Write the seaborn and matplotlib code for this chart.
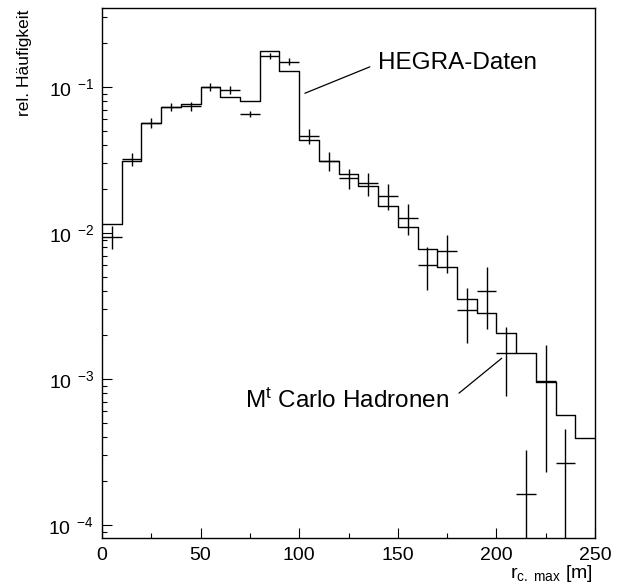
import numpy as np
import pandas as pd
import matplotlib
matplotlib.use("Agg")
import matplotlib.pyplot as plt
import seaborn as sns
from matplotlib.ticker import MultipleLocator, LogLocator, NullFormatter, FuncFormatter

# ---- data ----
bin_width = 10
bin_range = (0, 250)
mc_centers = [5, 15, 25, 35, 45, 55, 65, 75, 85, 95, 105, 115, 125, 135, 145,
              155, 165, 175, 185, 195, 205, 215, 225, 235, 245]
mc_values = [0.0115, 0.0311, 0.0564, 0.0733, 0.0761, 0.1005, 0.0849, 0.0806,
             0.177, 0.129, 0.0434, 0.0312, 0.0254, 0.0211, 0.0152, 0.0110,
             0.00776, 0.00588, 0.00352, 0.00282, 0.00208, 0.00151, 0.00096,
             0.00057, 0.000396]

data_x = [5, 15, 25, 35, 45, 55, 65, 75, 85, 95, 105, 115, 125, 135, 145,
          155, 165, 175, 185, 195, 205, 215, 225, 235]
data_y = [0.00943, 0.0320, 0.0570, 0.0733, 0.0741, 0.1005, 0.0954, 0.0653,
          0.163, 0.149, 0.0464, 0.0312, 0.0237, 0.0219, 0.0180, 0.0127,
          0.00604, 0.00750, 0.00297, 0.00401, 0.00151, 0.000163, 0.00097,
          0.000264]
data_err = [0.0017, 0.0031, 0.0047, 0.0043, 0.0052, 0.0060, 0.0058, 0.0034,
            0.0075, 0.0085, 0.0055, 0.0046, 0.0038, 0.0040, 0.0037, 0.0030,
            0.0020, 0.0022, 0.0012, 0.0018, 0.00075, 0.000164, 0.00074,
            0.00019]
x_half_width = 5

x_ticks = [0, 50, 100, 150, 200, 250]

# ---- style ----
sns.set_style("ticks")
plt.rcParams['font.family'] = ['Liberation Sans', 'DejaVu Sans']
plt.rcParams['mathtext.fontset'] = 'custom'
plt.rcParams['mathtext.rm'] = 'Liberation Sans'
plt.rcParams['mathtext.it'] = 'Liberation Sans:italic'
plt.rcParams['mathtext.bf'] = 'Liberation Sans:bold'
plt.rcParams['axes.unicode_minus'] = False
plt.rcParams['text.color'] = 'black'
plt.rcParams['axes.labelcolor'] = 'black'
plt.rcParams['xtick.color'] = 'black'
plt.rcParams['ytick.color'] = 'black'
plt.rcParams['xtick.labelcolor'] = 'black'
plt.rcParams['ytick.labelcolor'] = 'black'

fig = plt.figure(figsize=(6.19, 5.88), dpi=100)
ax = fig.add_axes([102 / 619, 1 - 537.5 / 588, 493 / 619, 529.5 / 588])

mc_df = pd.DataFrame({"r": mc_centers, "w": mc_values})
sns.histplot(data=mc_df, x="r", weights="w", binwidth=bin_width,
             binrange=bin_range, element="step",
             fill=False, color="black", linewidth=1.0, ax=ax)

ax.errorbar(data_x, data_y, xerr=x_half_width, yerr=data_err, fmt="none",
            ecolor="black", elinewidth=1.0, capsize=0)

ax.set_yscale("log")
ax.set_xlim(0, 250)
ax.set_ylim(10 ** (-1 - 450.5 / 146), 0.3475)

ax.set_xticks(x_ticks)
ax.xaxis.set_minor_locator(MultipleLocator(25))
ax.yaxis.set_major_locator(LogLocator(base=10))
ax.yaxis.set_minor_locator(LogLocator(base=10, subs=np.arange(2, 10)))
ax.yaxis.set_minor_formatter(NullFormatter())
ax.yaxis.set_major_formatter(FuncFormatter(
    lambda v, p: r"$\mathregular{10}^{\;\;\mathregular{%d}}$" % int(round(np.log10(v)))))

ax.tick_params(axis="both", which="major", direction="in", length=7.5,
               width=0.8, labelsize=14, top=False, right=False, color="black",
               labelcolor="black")
ax.tick_params(axis="both", which="minor", direction="in", length=3.8,
               width=0.8, top=False, right=False, color="black")
ax.tick_params(axis="x", which="major", pad=7)
ax.tick_params(axis="y", which="major", pad=6)

for s in ax.spines.values():
    s.set_visible(True)
    s.set_color("black")
    s.set_linewidth(1.0)

ax.set_ylabel("rel. Häufigkeit", fontsize=12.5, loc="top", color="black")
ax.yaxis.set_label_coords(-0.142, 0.996)
ax.set_xlabel(r"$\mathregular{r_{c.\ max}}$ [m]", fontsize=14, loc="right",
              color="black")
ax.xaxis.set_label_coords(0.996, -0.048)

ax.annotate("HEGRA-Daten", xy=(102.9, 0.0906), xytext=(140.1, 0.145),
            fontsize=17.5, ha="left", va="center", color="black",
            arrowprops=dict(arrowstyle="-", color="black", lw=0.9,
                            shrinkA=4, shrinkB=0, relpos=(0, 0.5)))
ax.annotate(r"M$^{\mathregular{t}}$ Carlo Hadronen", xy=(202.7, 1.387e-3),
            xytext=(176.1, 7.06e-4), fontsize=17.5, ha="right", va="center",
            color="black",
            arrowprops=dict(arrowstyle="-", color="black", lw=0.9,
                            shrinkA=6, shrinkB=0, relpos=(1, 0.5)))

fig.savefig("out.png", dpi=100)
